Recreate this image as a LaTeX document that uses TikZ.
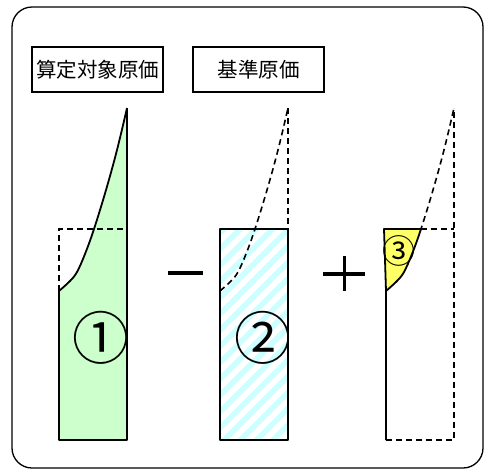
\documentclass[tikz,border=0pt]{standalone}
\usepackage{fontspec}
\setmainfont{Noto Sans CJK JP}
\newfontfamily\jp{Noto Sans CJK JP}
\usetikzlibrary{patterns.meta}
\definecolor{lgreen}{HTML}{CCFFCC}
\definecolor{lcyan}{HTML}{CCFFFF}
\definecolor{lyellow}{HTML}{FFFF66}
\tikzset{
  solidline/.style={line width=1.8pt, line join=round},
  dashline/.style={line width=1.6pt, dash pattern=on 6pt off 4pt},
  labelbox/.style={draw, line width=1.3pt, minimum width=131pt, minimum height=45pt, inner sep=0pt, font=\jp\fontsize{20.5pt}{22pt}\selectfont},
  bignum/.style={inner sep=0pt, font=\jp\fontsize{57pt}{59pt}\selectfont},
  smallnum/.style={inner sep=0pt, font=\jp\fontsize{33pt}{35pt}\selectfont},
  opline/.style={line width=3.6pt}
}
\def\curvepts{(0,291) (11,281) (18,272) (26,254) (35,229) (47,190) (58,150) (68,108)}
\begin{document}
\begin{tikzpicture}[x=1pt,y=-1pt]
\useasboundingbox (0,0) rectangle (484,469);
% outer frame
\draw[line width=1.3pt, rounded corners=20pt] (12,7) rectangle (483,468);
% label boxes
\node[labelbox] (b1) at (97.5,69.5) {算定対象原価};
\node[labelbox] (b2) at (258.5,69.5) {基準原価};

% ---- shape 1 ----
\begin{scope}[xshift=59pt]
  \fill[lgreen] plot[smooth,tension=0.6] coordinates {\curvepts} -- (68,440) -- (0,440) -- cycle;
  \draw[solidline] (0,291) -- (0,440) -- (68,440) -- (68,108);
  \draw[solidline] plot[smooth,tension=0.6] coordinates {\curvepts};
  \draw[dashline] (0,291) -- (0,229) -- (68,229);
  \node[bignum] (n1) at (42,338) {①};
\end{scope}

% minus
\coordinate (m1) at (168,273);
\coordinate (m2) at (203,273);
\draw[opline] (m1) -- (m2);

% ---- shape 2 ----
\begin{scope}[xshift=220pt]
  \fill[pattern={Lines[angle=45,distance=11.5pt,line width=5.5pt]}, pattern color=lcyan] (0,229) rectangle (68,440);
  \draw[solidline] (0,229) rectangle (68,440);
  \draw[dashline] plot[smooth,tension=0.6] coordinates {\curvepts};
  \draw[dashline] (68,108) -- (68,229);
  \node[bignum] (n2) at (43,338) {②};
\end{scope}

% plus
\coordinate (p1) at (323,274);
\coordinate (p2) at (365,274);
\coordinate (p3) at (344.5,256);
\coordinate (p4) at (344.5,291);
\draw[opline] (p1) -- (p2);
\draw[opline] (p3) -- (p4);

% ---- shape 3 ----
\begin{scope}[xshift=386pt]
  \begin{scope}
    \clip (-5,229) rectangle (80,300);
    \fill[lyellow] plot[smooth,tension=0.6] coordinates {\curvepts} -- (68,60) -- (-2,60) -- (-2,229) -- cycle;
  \end{scope}
  \begin{scope}
    \clip (-5,229) rectangle (80,300);
    \draw[solidline] plot[smooth,tension=0.6] coordinates {\curvepts};
  \end{scope}
  \begin{scope}
    \clip (-5,229) rectangle (80,80);
    \draw[dashline] plot[smooth,tension=0.6] coordinates {\curvepts};
  \end{scope}
  \draw[solidline] (35,229) -- (-2,229) -- (0,291) -- (0,440);
  \draw[dashline] (0,440) -- (68,440) -- (68,108);
  \draw[dashline] (35,229) -- (68,229);
  \node[smallnum] (n3) at (13,250.5) {③};
\end{scope}
\end{tikzpicture}
\end{document}
